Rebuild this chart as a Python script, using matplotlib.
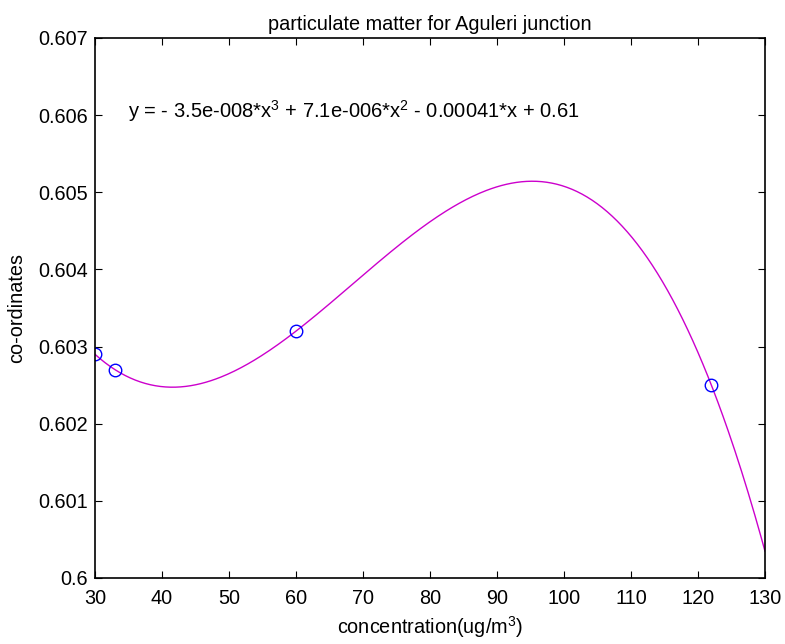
import numpy as np
import matplotlib
matplotlib.use("Agg")
import matplotlib.pyplot as plt

plt.rcParams['font.family'] = ['Liberation Sans', 'DejaVu Sans']
plt.rcParams['mathtext.fontset'] = 'custom'
plt.rcParams['mathtext.rm'] = 'Liberation Sans'
plt.rcParams['mathtext.it'] = 'Liberation Sans'

conc = [30, 33, 60, 122]
coords = [0.6029, 0.6027, 0.6032, 0.6025]
xticks = [30, 40, 50, 60, 70, 80, 90, 100, 110, 120, 130]
yticks = [0.600, 0.601, 0.602, 0.603, 0.604, 0.605, 0.606, 0.607]
ytick_labels = ['0.6', '0.601', '0.602', '0.603', '0.604', '0.605', '0.606', '0.607']
equation = r'y = - 3.5e-008*x$^3$ + 7.1e-006*x$^2$ - 0.00041*x + 0.61'

coef = np.polyfit(conc, coords, 3)
xs = np.linspace(30, 130, 400)
ys = np.polyval(coef, xs)

fig = plt.figure(figsize=(7.85, 6.44), dpi=100)
ax = fig.add_axes([0.121, 0.1025, 0.8535, 0.8385])
ax.plot(xs, ys, color='#cc00cc', lw=1)
ax.plot(conc, coords, 'o', mfc='none', mec='#0000ff', ms=9, mew=1)
ax.set_xlim(30, 130)
ax.set_ylim(0.600, 0.607)
ax.set_xticks(xticks)
ax.set_xticklabels([str(t) for t in xticks])
ax.set_yticks(yticks)
ax.set_yticklabels(ytick_labels)
ax.tick_params(direction='in', top=True, right=True, labelsize=14.3, length=5, width=0.8)
ax.tick_params(axis='x', pad=8)
ax.tick_params(axis='y', pad=5)
for s in ax.spines.values():
    s.set_linewidth(1.2)
ax.set_xlabel(r'concentration(ug/m$^3$)', fontsize=14.3, labelpad=4)
ax.set_ylabel('co-ordinates', fontsize=14.3, labelpad=9)
ax.set_title('particulate matter for Aguleri junction', fontsize=14.3, pad=6)
ax.text(35, 0.605963, equation, fontsize=14.5, va='baseline', ha='left')
fig.savefig('out.png', dpi=100)
